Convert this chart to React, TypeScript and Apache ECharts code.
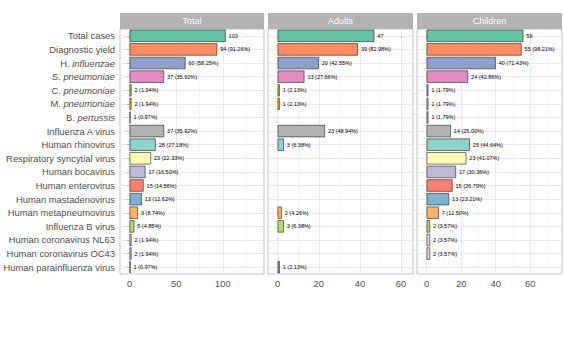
import React, { useEffect, useRef } from "react";
import * as echarts from "echarts";

const categories = [
  "Total cases",
  "Diagnostic yield",
  "H. influenzae",
  "S. pneumoniae",
  "C. pneumoniae",
  "M. pneumoniae",
  "B. pertussis",
  "Influenza A virus",
  "Human rhinovirus",
  "Respiratory syncytial virus",
  "Human bocavirus",
  "Human enterovirus",
  "Human mastadenovirus",
  "Human metapneumovirus",
  "Influenza B virus",
  "Human coronavirus NL63",
  "Human coronavirus OC43",
  "Human parainfluenza virus",
];

const panelTitles = ["Total", "Adults", "Children"];

const totalValues = [103, 94, 60, 37, 2, 2, 1, 37, 28, 23, 17, 15, 13, 9, 5, 2, 2, 1];
const totalPct = [null, "91.26", "58.25", "35.92", "1.94", "1.94", "0.97", "35.92", "27.18", "22.33", "16.50", "14.56", "12.62", "8.74", "4.85", "1.94", "1.94", "0.97"];

const adultValues = [47, 39, 20, 13, 1, 1, null, 23, 3, null, null, null, null, 2, 3, null, null, 1];
const adultPct = [null, "82.98", "42.55", "27.66", "2.13", "2.13", null, "48.94", "6.38", null, null, null, null, "4.26", "6.38", null, null, "2.13"];

const childValues = [56, 55, 40, 24, 1, 1, 1, 14, 25, 23, 17, 15, 13, 7, 2, 2, 2, null];
const childPct = [null, "98.21", "71.43", "42.86", "1.79", "1.79", "1.79", "25.00", "44.64", "41.07", "30.36", "26.79", "23.21", "12.50", "3.57", "3.57", "3.57", null];

const barColors = [
  "#66C2A5", "#FC8D62", "#8DA0CB", "#E78AC3", "#A6D854", "#FFD92F", "#E5C494", "#B3B3B3",
  "#8DD3C7", "#FFFFB3", "#BEBADA", "#FB8072", "#80B1D3", "#FDB462", "#B3DE69", "#FCCDE5", "#D9D9D9", "#BC80BD",
];

const majorTicks = [
  [0, 50, 100],
  [0, 20, 40, 60],
  [0, 20, 40, 60],
];
const minorTicks = [
  [25, 75, 125],
  [10, 30, 50],
  [10, 30, 50, 70],
];
const axisRanges = [
  [-10.3, 144.2],
  [-4.7, 65.8],
  [-5.6, 78.4],
];

const italicNames: Record<string, [string, string]> = {
  "H. influenzae": ["H. ", "influenzae"],
  "S. pneumoniae": ["S. ", "pneumoniae"],
  "C. pneumoniae": ["C. ", "pneumoniae"],
  "M. pneumoniae": ["M. ", "pneumoniae"],
  "B. pertussis": ["B. ", "pertussis"],
};

const FONT = "'Liberation Sans', Arial, Helvetica, sans-serif";

export default function App() {
  const ref = useRef<HTMLDivElement>(null);
  useEffect(() => {
    if (!ref.current) return;
    const chart = echarts.init(ref.current, undefined, { renderer: "svg" });
    const panels = [
      { values: totalValues, pct: totalPct },
      { values: adultValues, pct: adultPct },
      { values: childValues, pct: childPct },
    ];
    const gridLefts = [120, 268, 417];
    const gridWidths = [144, 145, 145];
    const top = 29;
    const height = 245;

    const grids = gridLefts.map((l, i) => ({
      left: l,
      top,
      width: gridWidths[i],
      height,
      show: true,
      borderColor: "#B3B3B3",
      borderWidth: 0.8,
      backgroundColor: "#fff",
      containLabel: false,
    }));

    const xAxes: any[] = [];
    panels.forEach((_, i) => {
      xAxes.push({
        type: "value",
        gridIndex: i,
        min: axisRanges[i][0],
        max: axisRanges[i][1],
        axisLine: { show: false },
        axisTick: { show: true, length: 3, lineStyle: { color: "#B3B3B3", width: 0.8 }, customValues: majorTicks[i] },
        axisLabel: { show: true, customValues: majorTicks[i], color: "#4D4D4D", fontSize: 9.4, fontFamily: FONT, margin: 5 },
        splitLine: { show: true, lineStyle: { color: "#E3E3E3", width: 0.8 } },
      });
    });
    panels.forEach((_, i) => {
      xAxes.push({
        type: "value",
        gridIndex: i,
        min: axisRanges[i][0],
        max: axisRanges[i][1],
        axisLine: { show: false },
        axisTick: { show: false, customValues: minorTicks[i] },
        axisLabel: { show: false, customValues: minorTicks[i] },
        splitLine: { show: true, lineStyle: { color: "#EFEFEF", width: 0.6 } },
      });
    });

    const yAxes: any[] = [];
    panels.forEach((_, i) => {
      yAxes.push({
        type: "category",
        gridIndex: i,
        data: categories,
        inverse: true,
        axisLine: { show: false },
        axisTick: { show: i === 0, alignWithLabel: true, length: 3, lineStyle: { color: "#B3B3B3", width: 0.8 } },
        splitLine: { show: false },
        axisLabel: {
          show: i === 0,
          margin: 5,
          color: "#4D4D4D",
          fontSize: 9.4,
          fontFamily: FONT,
          formatter: (v: string) => {
            const it = italicNames[v];
            if (it) return `{n|${it[0]}}{i|${it[1]}}`;
            return `{n|${v}}`;
          },
          rich: {
            n: { color: "#4D4D4D", fontSize: 9.4, fontFamily: FONT, fontStyle: "normal" },
            i: { color: "#4D4D4D", fontSize: 9.4, fontFamily: FONT, fontStyle: "italic" },
          },
        },
      });
    });
    const rowIdx = categories.map((_, k) => k);
    panels.forEach((_, i) => {
      yAxes.push({
        type: "value",
        gridIndex: i,
        min: -0.5,
        max: categories.length - 0.5,
        inverse: true,
        axisLine: { show: false },
        axisTick: { show: false, customValues: rowIdx },
        axisLabel: { show: false, customValues: rowIdx },
        splitLine: { show: true, lineStyle: { color: "#E3E3E3", width: 0.8 } },
      });
    });

    const series = panels.map((p, i) => ({
      type: "bar",
      xAxisIndex: i,
      yAxisIndex: i,
      barCategoryGap: "10%",
      data: p.values.map((v, k) => ({
        value: v,
        itemStyle: { color: barColors[k], borderColor: "#222", borderWidth: 0.6 },
      })),
      label: {
        show: true,
        position: "right",
        distance: 3,
        fontSize: 5.5,
        color: "#000",
        fontFamily: FONT,
        formatter: (params: any) => {
          const k = params.dataIndex;
          const v = p.values[k];
          if (v == null) return "";
          const pc = p.pct[k];
          return pc == null ? `${v}` : `${v} (${pc}%)`;
        },
      },
    }));

    const graphics: any[] = [];
    panelTitles.forEach((t, i) => {
      graphics.push({
        type: "rect",
        shape: { x: gridLefts[i], y: 13, width: gridWidths[i], height: 16 },
        style: { fill: "#B3B3B3" },
        silent: true,
      });
      graphics.push({
        type: "text",
        x: gridLefts[i] + gridWidths[i] / 2,
        y: 21,
        style: {
          text: t,
          fill: "#FFFFFF",
          fontSize: 9,
          fontFamily: FONT,
          align: "center",
          verticalAlign: "middle",
        },
        silent: true,
      });
    });

    chart.setOption({
      animation: false,
      backgroundColor: "#fff",
      grid: grids,
      xAxis: xAxes,
      yAxis: yAxes,
      series,
      graphic: graphics,
    });
    return () => chart.dispose();
  }, []);
  return (
    <div
      ref={ref}
      style={{ position: "absolute", left: 0, top: 0, width: 563, height: 352 }}
    />
  );
}
